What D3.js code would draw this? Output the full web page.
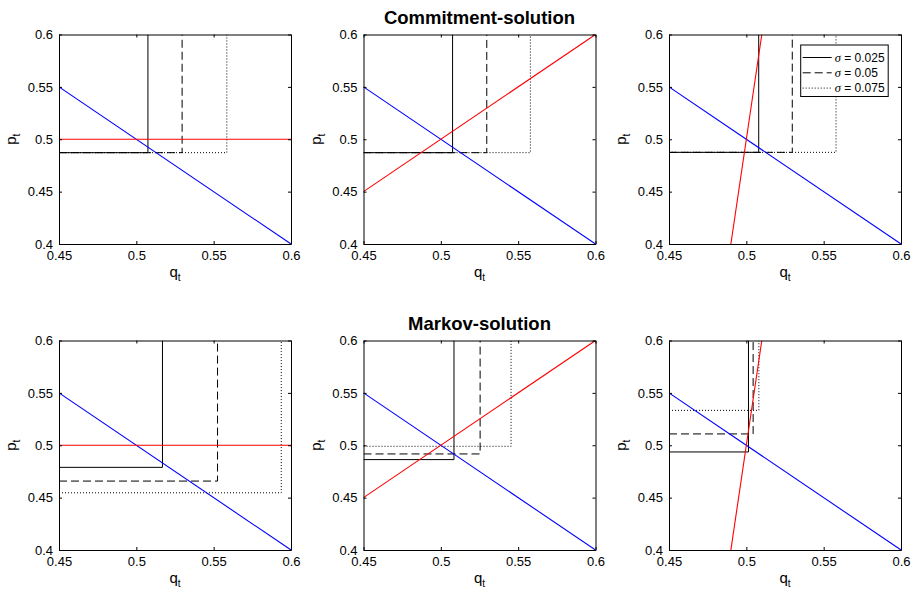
<!DOCTYPE html>
<html>
<head>
<meta charset="utf-8">
<script src="https://cdn.jsdelivr.net/npm/d3@7/dist/d3.min.js"></script>
<style>
  html, body { margin: 0; padding: 0; background: #fff; }
  svg { display: block; font-family: "Liberation Sans", Arial, Helvetica, sans-serif; }
</style>
</head>
<body>
<svg id="chart" width="918" height="597"></svg>
<script>
// ---------------- data ----------------
const xTicks = [0.45, 0.5, 0.55, 0.6];
const yTicks = [0.4, 0.45, 0.5, 0.55, 0.6];
const rowTitles = ["Commitment-solution", "Markov-solution"];
const sigmaValues = ["0.025", "0.05", "0.075"];

// blue (demand) line endpoints [q, p]
const demandLine = [[0.45, 0.55], [0.6, 0.4]];
// red lines per column: flat, 45-degree, steep
const supplyLines = [
  [[0.45, 0.5], [0.6, 0.5]],
  [[0.45, 0.45], [0.6, 0.6]],
  [[0.49, 0.4], [0.51, 0.6]]
];
// knee points (q, p) of the black step curves, per column, per sigma
const commitKneeQ = [[0.5075, 0.5296, 0.5585], [0.5076, 0.5297, 0.5579], [0.5080, 0.5297, 0.5580]];
const commitKneeP = [[0.4872, 0.4872, 0.4872], [0.4872, 0.4872, 0.4872], [0.4875, 0.4875, 0.4875]];
const markovKneeQ = [[0.5169, 0.5525, 0.5937], [0.5085, 0.5254, 0.5454], [0.5014, 0.5044, 0.5081]];
const markovKneeP = [[0.4789, 0.4658, 0.4546], [0.4863, 0.4917, 0.4990], [0.4936, 0.5108, 0.5333]];

// ---------------- layout ----------------
const svg = d3.select("#chart");
const colLeft = [59, 363.5, 669];
const rowTop = [34.5, 340.5];
const pw = 232, ph = 209.5;
const dashes = [null, "8,4", "1,2"];

function drawPanel(row, col) {
  const x0 = colLeft[col], y0 = rowTop[row];
  const g = svg.append("g").attr("transform", `translate(${x0},${y0})`);
  const x = d3.scaleLinear().domain([0.45, 0.6]).range([0, pw]);
  const y = d3.scaleLinear().domain([0.4, 0.6]).range([ph, 0]);

  g.append("defs").append("clipPath").attr("id", `clip${row}${col}`)
    .append("rect").attr("width", pw).attr("height", ph);
  const plot = g.append("g").attr("clip-path", `url(#clip${row}${col})`);
  const line = d3.line().x(d => x(d[0])).y(d => y(d[1]));

  const kq = row === 0 ? commitKneeQ[col] : markovKneeQ[col];
  const kp = row === 0 ? commitKneeP[col] : markovKneeP[col];
  // draw dotted first, then dashed, then solid
  [2, 1, 0].forEach(i => {
    plot.append("path")
      .attr("d", line([[0.45, kp[i]], [kq[i], kp[i]], [kq[i], 0.6]]))
      .attr("fill", "none").attr("stroke", "#000").attr("stroke-width", 1)
      .attr("stroke-dasharray", dashes[i]);
  });
  plot.append("path").attr("d", line(demandLine))
    .attr("fill", "none").attr("stroke", "#0000ff").attr("stroke-width", 1.1);
  plot.append("path").attr("d", line(supplyLines[col]))
    .attr("fill", "none").attr("stroke", "#ff0000").attr("stroke-width", 1.1);

  // axes (ticks inward, box)
  const tl = 3;
  const axB = d3.axisBottom(x).tickValues(xTicks).tickSizeInner(-tl).tickSizeOuter(0).tickPadding(7).tickFormat(d3.format("~g"));
  const axT = d3.axisTop(x).tickValues(xTicks).tickSizeInner(-tl).tickSizeOuter(0).tickFormat("");
  const axL = d3.axisLeft(y).tickValues(yTicks).tickSizeInner(-tl).tickSizeOuter(0).tickPadding(6).tickFormat(d3.format("~g"));
  const axR = d3.axisRight(y).tickValues(yTicks).tickSizeInner(-tl).tickSizeOuter(0).tickFormat("");
  const gB = g.append("g").attr("transform", `translate(0,${ph})`).call(axB);
  const gT = g.append("g").call(axT);
  const gL = g.append("g").call(axL);
  const gR = g.append("g").attr("transform", `translate(${pw},0)`).call(axR);
  [gB, gT, gL, gR].forEach(a => {
    a.selectAll(".domain").attr("stroke", "#000").attr("stroke-width", 1);
    a.selectAll(".tick line").attr("stroke", "#000");
    a.selectAll("text").attr("fill", "#000").style("font-size", "13px")
      .style("font-family", "'Liberation Sans', Arial, sans-serif");
  });

  // axis labels
  const xl = g.append("text").attr("x", pw / 2).attr("y", ph + 33)
    .attr("text-anchor", "middle").style("font-size", "15px");
  xl.append("tspan").text("q");
  xl.append("tspan").attr("dy", 4).style("font-size", "10px").text("t");

  const yl = g.append("text").attr("transform", `translate(-43,${ph / 2}) rotate(-90)`)
    .attr("text-anchor", "middle").style("font-size", "15px");
  yl.append("tspan").text("p");
  yl.append("tspan").attr("dy", 4).style("font-size", "10px").text("t");

  // row title above middle column
  if (col === 1) {
    svg.append("text").attr("x", x0 + pw / 2).attr("y", y0 - 10.5)
      .attr("text-anchor", "middle").style("font-size", "18.5px").style("font-weight", "bold")
      .text(rowTitles[row]);
  }

  // legend in top-right panel
  if (row === 0 && col === 2) {
    const lg = g.append("g").attr("transform", `translate(${800.7 - x0},${45 - y0})`);
    lg.append("rect").attr("width", 87.5).attr("height", 51.5)
      .attr("fill", "#fff").attr("stroke", "#000").attr("stroke-width", 1);
    sigmaValues.forEach((s, i) => {
      const yy = 12.5 + i * 15.3;
      lg.append("line").attr("x1", 2).attr("x2", 31).attr("y1", yy).attr("y2", yy)
        .attr("stroke", "#000").attr("stroke-width", 1).attr("stroke-dasharray", dashes[i]);
      const t = lg.append("text").attr("x", 34).attr("y", yy + 4).style("font-size", "12px");
      t.append("tspan").style("font-family", "'Liberation Serif', 'Times New Roman', serif")
        .style("font-style", "italic").style("font-size", "12.5px").text("σ");
      t.append("tspan").text(" = " + s);
    });
  }
}

for (let r = 0; r < 2; r++) for (let c = 0; c < 3; c++) drawPanel(r, c);
</script>
</body>
</html>
